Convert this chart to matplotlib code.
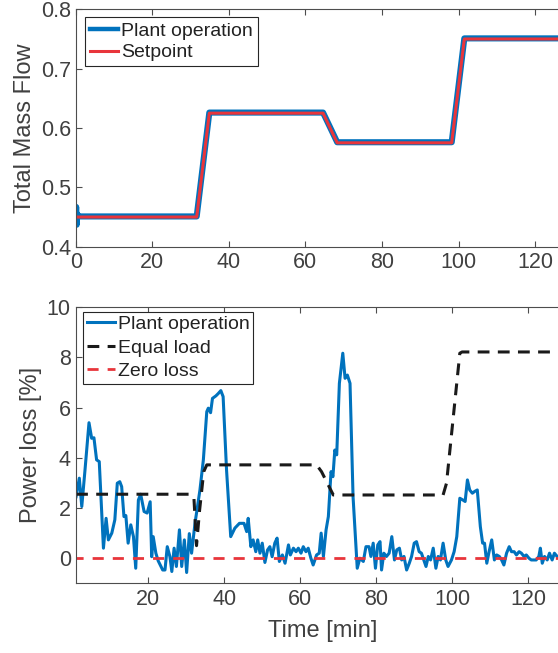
import matplotlib
matplotlib.use("Agg")
import matplotlib.pyplot as plt
from matplotlib.lines import Line2D

# ---------------- data ----------------
t_set = [0, 31.6, 34.9, 64.6, 68.3, 98.2, 101.5, 131]
setpoint = [0.450, 0.450, 0.625, 0.625, 0.575, 0.575, 0.750, 0.750]

t_plant = [0, 0.12, 0.25, 0.4, 0.6, 31.6, 34.9, 64.6, 68.3, 98.2, 101.5, 131]
plant = [0.450, 0.467, 0.437, 0.455, 0.451, 0.451, 0.626, 0.626, 0.576, 0.576, 0.751, 0.751]

t_loss = [1.0, 1.85, 2.5, 3.35, 4.4, 5.1, 5.7, 6.4, 7.1, 8.2, 8.9, 9.5, 10.4, 11.2,
          11.85, 12.5, 13.0, 13.6, 14.1, 14.7, 15.4, 16.1, 16.7, 17.4, 18.0, 18.9,
          19.7, 20.5, 20.9, 21.3, 22.0, 22.6, 23.8, 24.4, 25.0, 25.7, 26.2, 26.8,
          27.4, 28.2, 28.8, 29.5, 30.1, 30.8, 31.4, 32.3, 33.6, 34.5, 35.4, 35.8,
          36.4, 36.9, 37.8, 38.4, 39.1, 39.7, 40.6, 41.7, 42.8, 44.0, 45.2, 45.9,
          46.3, 47.0, 47.6, 48.3, 48.8, 49.4, 50.0, 50.7, 51.4, 52.0, 52.6, 53.3,
          53.9, 54.5, 55.3, 56.0, 56.9, 57.4, 58.2, 58.9, 59.5, 60.2, 60.8, 61.5,
          62.1, 62.8, 63.4, 64.3, 65.0, 65.5, 66.1, 66.8, 67.4, 68.1, 68.6, 69.1,
          69.6, 70.3, 71.2, 71.8, 72.4, 73.1, 73.9, 75.0, 75.7, 76.6, 77.3, 78.1,
          78.6, 79.2, 79.8, 80.4, 81.0, 81.4, 82.0, 82.7, 83.4, 84.1, 84.8, 85.4,
          86.1, 86.7, 87.3, 88.0, 88.7, 89.3, 90.0, 90.6, 91.3, 91.9, 92.5, 93.1,
          93.7, 94.3, 95.0, 95.7, 96.3, 96.9, 97.6, 98.3, 98.9, 99.8, 100.5, 101.2,
          102.0, 102.8, 103.4, 104.0, 104.6, 105.3, 105.9, 106.6, 107.4, 108.0,
          108.5, 109.1, 109.7, 110.4, 111.1, 111.7, 112.4, 113.0, 113.6, 114.3,
          115.0, 115.6, 116.3, 116.9, 117.6, 118.2, 118.9, 119.5, 120.2, 120.8,
          121.4, 122.1, 122.8, 123.2, 123.7, 124.3, 125.0, 125.6, 126.3, 126.9,
          127.6, 128.5, 130.0]
loss = [2.45, 3.19, 2.06, 3.52, 5.4, 4.78, 4.8, 3.92, 3.85, 0.4, 1.59, 0.73, 1.0, 1.53,
        2.99, 3.05, 2.85, 1.66, 1.7, 0.6, 1.33, 0.86, -0.4, 2.32, 2.55, 1.86,
        1.8, 2.25, 0.06, 0.86, 0.2, -0.1, -0.47, -0.47, 0.46, 0.06, -0.53, 0.4,
        -0.33, 1.13, -0.33, 0.73, -0.57, 0.98, 0.2, 1.39, 2.72, 3.92, 5.84, 5.98,
        5.8, 6.37, 6.47, 6.56, 6.68, 6.44, 3.52, 0.86, 1.2, 1.39, 1.39, 1.06,
        1.59, 0.46, 0.73, 0.26, 0.73, 0.2, 0.6, -0.17, 0.33, 0.46, 0.06, 0.6,
        0.8, -0.13, 0.13, -0.2, 0.53, 0.13, 0.4, 0.26, 0.4, 0.2, 0.46, 0.26,
        0.4, 0.0, -0.27, 0.13, 0.2, 1.0, 0.07, 1.13, 1.66, 3.45, 3.25, 4.31,
        4.12, 6.97, 8.17, 7.17, 7.3, 6.97, 2.45, -0.4, 0.0, -0.13, 0.46, 0.46,
        0.07, 0.6, -0.4, 0.53, 0.66, -0.47, 0.2, 0.07, 0.2, 0.86, -0.07, 0.33,
        0.4, -0.07, 0.07, -0.47, -0.2, 0.07, 0.6, 0.66, 0.26, 0.2, -0.07, -0.33,
        0.07, -0.07, 0.4, -0.4, 0.07, -0.07, 0.6, -0.07, -0.33, -0.07, 0.26, 0.86,
        2.39, 2.32, 2.26, 3.12, 2.72, 2.59, 2.66, 2.72, 1.26, 0.6,
        0.6, -0.2, 0.26, 0.73, -0.07, 0.13, 0.07, -0.07, -0.27, 0.2,
        0.46, 0.26, 0.26, 0.13, 0.26, 0.2, 0.07, 0.13, 0.0, -0.07,
        -0.07, -0.07, 0.07, 0.4, -0.2, 0.07, -0.07, 0.2, -0.07, 0.2,
        0.07, 0.1, 0.05]

t_eq = [1, 31.0, 32.0, 32.7, 33.5, 34.6, 35.4, 64.3, 65.6, 68.7, 97.6, 98.5, 102.0, 102.6, 131]
equal_load = [2.55, 2.55, 2.45, 0.5, 1.9, 3.45, 3.72, 3.72, 3.45, 2.52, 2.52, 2.99, 8.17, 8.22, 8.22]

t_zero = [0, 131]
zero_loss = [0, 0]

top_yticks = [0.4, 0.5, 0.6, 0.7, 0.8]
top_xticks = [0, 20, 40, 60, 80, 100, 120]
bot_yticks = [0, 2, 4, 6, 8, 10]
bot_xticks = [20, 40, 60, 80, 100, 120]

# ---------------- style ----------------
plt.rcParams['font.family'] = ['Liberation Sans', 'DejaVu Sans']
plt.rcParams['lines.scale_dashes'] = False
BLUE = '#0072BD'
RED = '#E8353B'
TXT = '#404040'
SP = '#4d4d4d'
FS_TICK = 15.5
FS_LAB = 17
FS_LEG = 14.0

W, H = 558, 653
fig = plt.figure(figsize=(W / 100, H / 100), dpi=100)

left_px, right_px = 75.7, 570.0
def axes_rect(top_px, bot_px):
    return [left_px / W, 1 - bot_px / H, (right_px - left_px) / W, (bot_px - top_px) / H]

ax1 = fig.add_axes(axes_rect(9.3, 246.7))
ax2 = fig.add_axes(axes_rect(307.3, 583.3))

def style(ax):
    for s in ax.spines.values():
        s.set_color(SP)
        s.set_linewidth(0.8)
    ax.tick_params(direction='in', length=4.5, width=0.8, color=SP,
                   labelcolor=TXT, labelsize=FS_TICK, top=True, right=True)
    ax.tick_params(axis='x', pad=4)
    ax.tick_params(axis='y', pad=3.5)

# top panel
ax1.plot(t_plant, plant, color=BLUE, lw=4.4, solid_joinstyle='round')
ax1.plot(t_set, setpoint, color=RED, lw=2.2)
ax1.set_xlim(0, 129.1)
ax1.set_ylim(0.4, 0.8)
ax1.set_xticks(top_xticks)
ax1.set_yticks(top_yticks)
ax1.set_yticklabels([f'{v:.1f}' for v in top_yticks])
style(ax1)
ax1.set_ylabel('Total Mass Flow', fontsize=FS_LAB, color=TXT)
ax1.yaxis.set_label_coords(-0.08, 0.5)
h1 = [Line2D([], [], color=BLUE, lw=3.2), Line2D([], [], color=RED, lw=2.2)]
leg1 = ax1.legend(h1, ['Plant operation', 'Setpoint'], loc='upper left',
                  bbox_to_anchor=(0.0188, 0.966), borderaxespad=0, fontsize=FS_LEG,
                  handlelength=1.45, handletextpad=0.15, labelspacing=0.2,
                  borderpad=0.25, fancybox=False, framealpha=1, edgecolor='#262626')
leg1.get_frame().set_linewidth(0.8)
for t in leg1.get_texts():
    t.set_color('#222222')

# bottom panel
ax2.plot(t_loss, loss, color=BLUE, lw=2.2)
ax2.plot(t_eq, equal_load, color='#1a1a1a', lw=2.2, ls=(0, (8.5, 6)))
ax2.plot(t_zero, zero_loss, color=RED, lw=2.0, ls=(0, (8, 6.5)))
ax2.set_xlim(0.9, 131.0)
ax2.set_ylim(-1, 10)
ax2.set_xticks(bot_xticks)
ax2.set_yticks(bot_yticks)
style(ax2)
ax2.set_ylabel('Power loss [%]', fontsize=FS_LAB, color=TXT)
ax2.yaxis.set_label_coords(-0.068, 0.5)
ax2.set_xlabel('Time [min]', fontsize=FS_LAB, color=TXT)
ax2.xaxis.set_label_coords(0.5, -0.132)
h2 = [Line2D([], [], color=BLUE, lw=2.2),
      Line2D([], [], color='#1a1a1a', lw=2.2, ls=(0, (8.5, 6))),
      Line2D([], [], color=RED, lw=2.0, ls=(0, (8, 6.5)))]
leg2 = ax2.legend(h2, ['Plant operation', 'Equal load', 'Zero loss'], loc='upper left',
                  bbox_to_anchor=(0.0142, 0.984), borderaxespad=0, fontsize=FS_LEG,
                  handlelength=1.45, handletextpad=0.15, labelspacing=0.3,
                  borderpad=0.2, fancybox=False, framealpha=1, edgecolor='#262626')
leg2.get_frame().set_linewidth(0.8)
for t in leg2.get_texts():
    t.set_color('#222222')

fig.savefig('out.png', dpi=100)
